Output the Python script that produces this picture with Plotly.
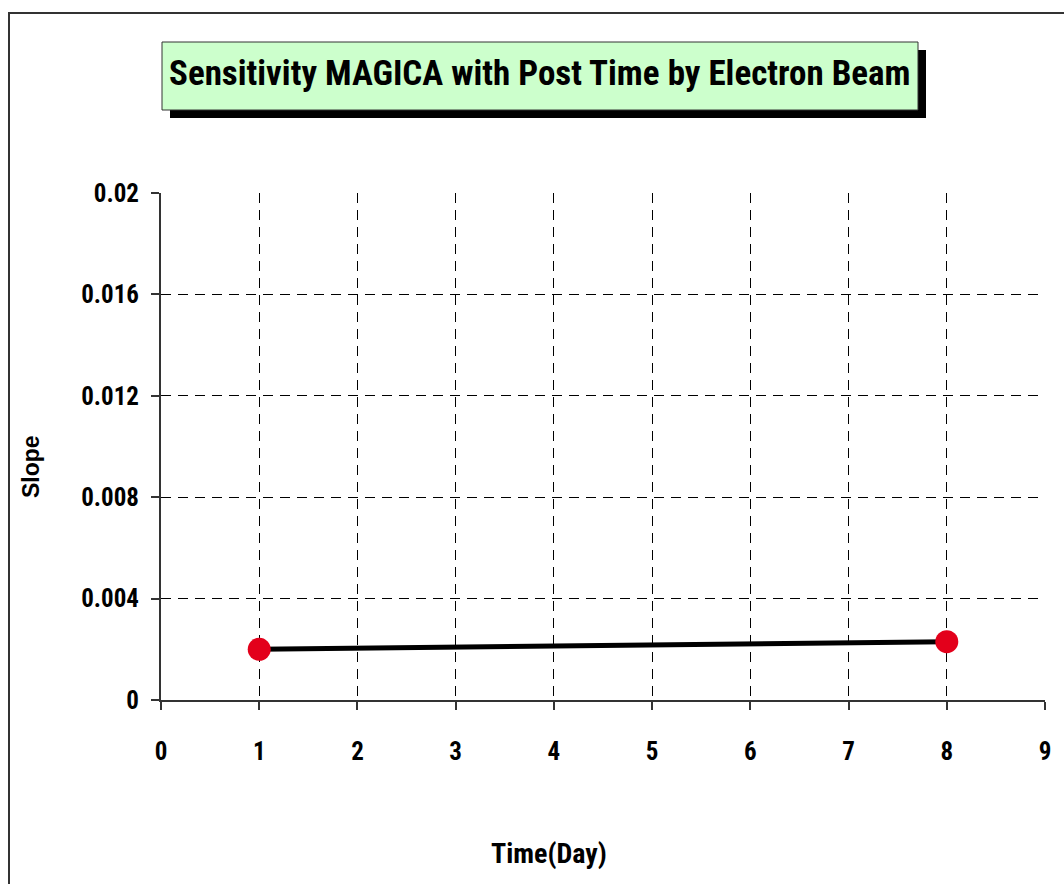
import plotly.graph_objects as go

# ---- data ----
time_day = [1, 8]
slope = [0.0020, 0.0023]
x_ticks = [0, 1, 2, 3, 4, 5, 6, 7, 8, 9]
y_ticks = [0, 0.004, 0.008, 0.012, 0.016, 0.02]
y_tick_labels = ["0", "0.004", "0.008", "0.012", "0.016", "0.02"]

title_text = "Sensitivity MAGICA with Post Time by Electron Beam"
x_title = "Time(Day)"
y_title = "Slope"

W, H = 1064, 884
L, R, T, B = 161, 1045, 193, 700  # plot area in pixels
NARROW = "Roboto Condensed, Liberation Sans Narrow, Arial Narrow, sans-serif"


def px(X):
    return (X - L) / (R - L)


def py(Y):
    return (B - Y) / (B - T)


fig = go.Figure()
fig.add_trace(go.Scatter(
    x=time_day, y=slope, mode="lines+markers",
    line=dict(color="black", width=5),
    marker=dict(color="#e3001b", size=23, line=dict(width=0)),
    showlegend=False,
))

axis_font = dict(family=NARROW, size=25, color="black", weight=700)

fig.update_layout(
    width=W, height=H,
    margin=dict(l=L, r=W - R, t=T, b=H - B),
    paper_bgcolor="white", plot_bgcolor="white",
    xaxis=dict(
        range=[0, 9], tickvals=x_ticks, ticktext=[str(v) for v in x_ticks],
        showgrid=True, gridcolor="black", gridwidth=1, griddash="10px,7px",
        showline=True, linecolor="#333", linewidth=2,
        ticks="outside", ticklen=8, tickcolor="#333", tickwidth=2,
        ticklabelstandoff=20, zeroline=False,
        tickfont=axis_font,
    ),
    yaxis=dict(
        range=[0, 0.02], tickvals=y_ticks, ticktext=y_tick_labels,
        showgrid=True, gridcolor="black", gridwidth=1, griddash="10px,7px",
        showline=True, linecolor="#333", linewidth=2,
        ticks="outside", ticklen=8, tickcolor="#333", tickwidth=2,
        ticklabelstandoff=7, zeroline=False,
        tickfont=axis_font,
    ),
    shapes=[
        # outer frame
        dict(type="rect", xref="paper", yref="paper", layer="below",
             x0=px(9), x1=px(1075), y0=py(895), y1=py(13),
             line=dict(color="#333", width=2), fillcolor="rgba(0,0,0,0)"),
        # title shadow
        dict(type="rect", xref="paper", yref="paper", layer="below",
             x0=px(170), x1=px(926), y0=py(118), y1=py(50),
             line=dict(width=0), fillcolor="black"),
        # title box
        dict(type="rect", xref="paper", yref="paper", layer="below",
             x0=px(162), x1=px(918), y0=py(110), y1=py(42),
             line=dict(color="#333", width=1), fillcolor="#ccffcc"),
    ],
    annotations=[
        dict(text=title_text, xref="paper", yref="paper", x=px(540), y=py(74),
             showarrow=False, xanchor="center", yanchor="middle",
             font=dict(family=NARROW, size=35, color="black", weight=700)),
        dict(text=x_title, xref="paper", yref="paper", x=px(549), y=py(853),
             showarrow=False, xanchor="center", yanchor="middle",
             font=dict(family=NARROW, size=28, color="black", weight=700)),
        dict(text=y_title, xref="paper", yref="paper", x=px(31), y=py(467),
             showarrow=False, xanchor="center", yanchor="middle", textangle=-90,
             font=dict(family="Liberation Sans, Arial, sans-serif", size=23,
                       color="black", weight=700)),
    ],
)

fig.write_html("out.html")
